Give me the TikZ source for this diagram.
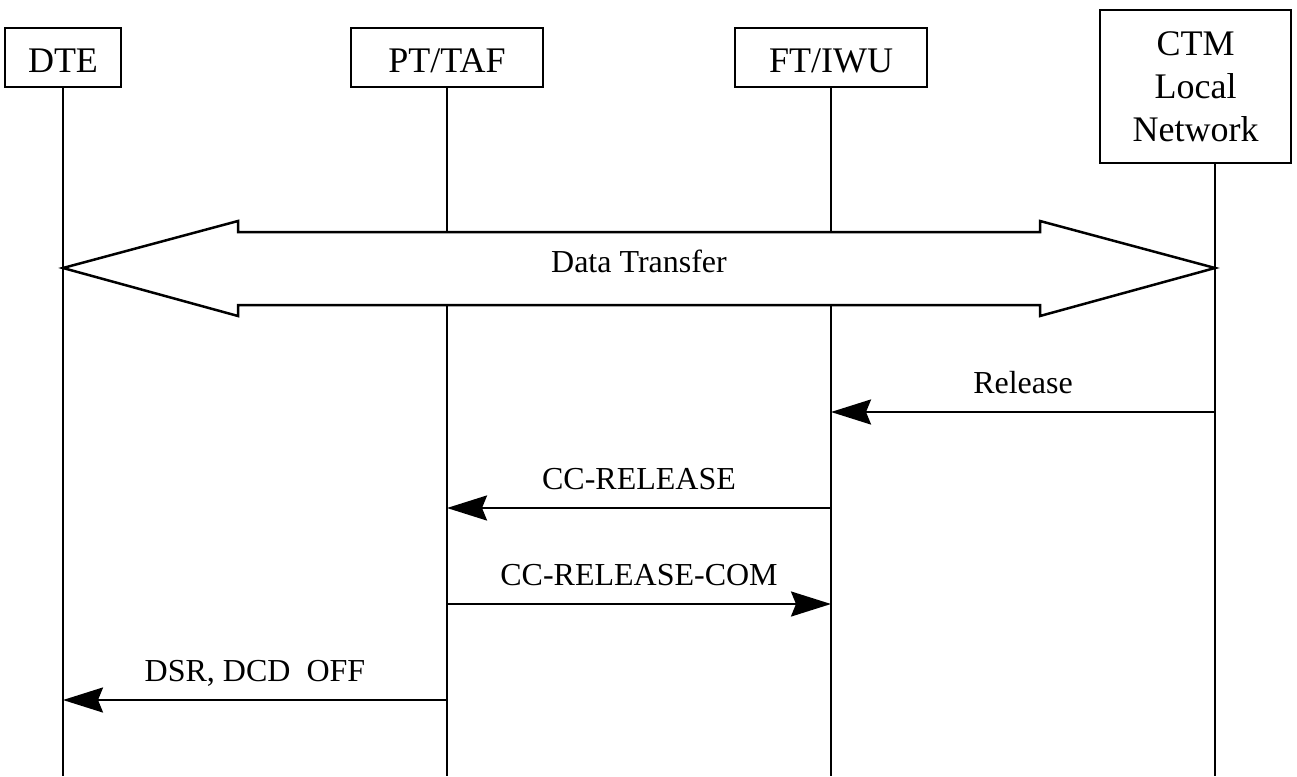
\documentclass[tikz,border=0pt]{standalone}
\usepackage{fontspec}
\setmainfont{Liberation Serif}
\usetikzlibrary{arrows.meta,calc}
\tikzset{
  boxlbl/.style={draw, line width=2.5pt, inner sep=0pt, align=center,
    font=\fontsize{36}{43}\selectfont},
  onebox/.style={boxlbl, minimum height=59pt, text height=30pt, text depth=0pt},
  life/.style={line width=2.5pt},
  msg/.style={line width=2.5pt, -{Stealth[length=40pt,width=25pt,inset=5pt]}},
  lbl/.style={anchor=base, yshift=18.5pt, inner sep=0pt, font=\fontsize{32}{38}\selectfont},
  bigarrow/.style={line width=2.5pt, fill=white, line join=miter}
}
\begin{document}
\begin{tikzpicture}[x=1pt,y=-1pt]
\useasboundingbox (0,0) rectangle (1297,776);
% entity boxes
\node[onebox, minimum width=116pt] (dte) at (63,57.5) {DTE};
\node[onebox, minimum width=192pt] (pt) at (447,57.5) {PT/TAF};
\node[onebox, minimum width=192pt] (ft) at (831,57.5) {FT/IWU};
\node[boxlbl, minimum width=191pt, minimum height=153pt] (ctm) at (1195.5,86.5) {CTM\\Local\\Network};
% lifelines
\coordinate (l1b) at (63,776);
\coordinate (l2b) at (447,776);
\coordinate (l3b) at (831,776);
\coordinate (l4t) at (1215,163);
\coordinate (l4b) at (1215,776);
\draw[life] (dte.south) -- (l1b);
\draw[life] (pt.south) -- (l2b);
\draw[life] (ft.south) -- (l3b);
\draw[life] (l4t) -- (l4b);
% data transfer double arrow
\coordinate (dtl) at (63,268);
\coordinate (dtr) at (1215,268);
\draw[bigarrow] (dtl) -- (238,221) -- (238,232) -- (1040,232) -- (1040,221) -- (dtr)
  -- (1040,316) -- (1040,305) -- (238,305) -- (238,316) -- cycle;
\node[anchor=base, inner sep=0pt, font=\fontsize{32}{38}\selectfont] (dtlbl) at (639,272) {Data Transfer};
% messages
\coordinate (m1a) at (1215,412); \coordinate (m1b) at (831,412);
\coordinate (m2a) at (831,508);  \coordinate (m2b) at (447,508);
\coordinate (m3a) at (447,604);  \coordinate (m3b) at (831,604);
\coordinate (m4a) at (447,700);  \coordinate (m4b) at (63,700);
\draw[msg] (m1a) -- node[lbl] {Release} (m1b);
\draw[msg] (m2a) -- node[lbl] {CC-RELEASE} (m2b);
\draw[msg] (m3a) -- node[lbl] {CC-RELEASE-COM} (m3b);
\draw[msg] (m4a) -- node[lbl] {DSR, DCD\ \ OFF} (m4b);
\end{tikzpicture}
\end{document}
